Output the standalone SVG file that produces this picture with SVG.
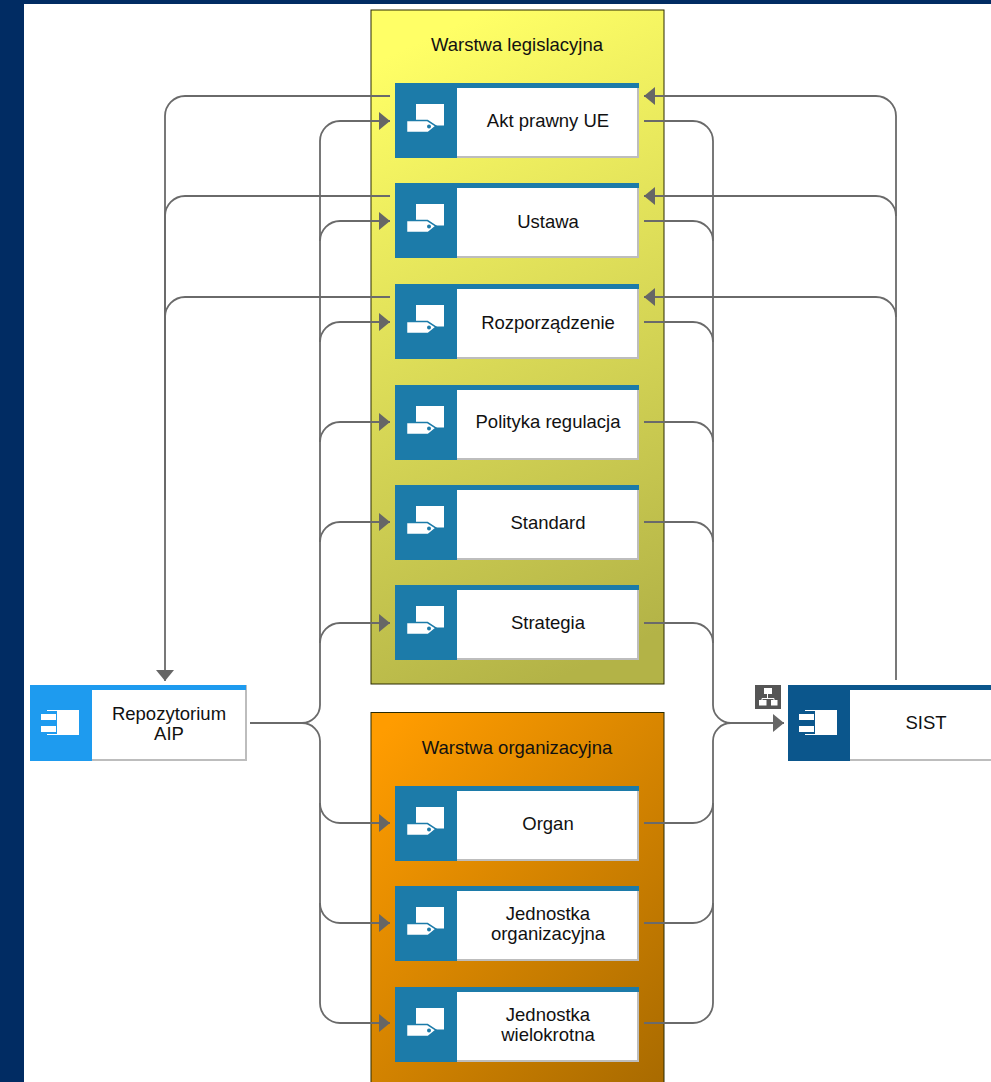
<svg xmlns="http://www.w3.org/2000/svg" width="991" height="1082" viewBox="0 0 991 1082">
<style>
text{font-family:"Liberation Sans",Arial,sans-serif;font-size:18.5px;fill:#111;text-anchor:middle}
.c{fill:none;stroke:#6a6a6a;stroke-width:1.8}
.b{fill:#fff;stroke:#bdbdbd;stroke-width:2}
.o{fill:#1c7ba9}
.layer{stroke:#2a2a00;stroke-width:1}
</style>
<defs>
<linearGradient id="g1" x1="0.4" y1="0" x2="0.6" y2="1"><stop offset="0" stop-color="#ffff66"/><stop offset="1" stop-color="#b3b347"/></linearGradient>
<linearGradient id="g2" x1="0.1" y1="0" x2="0.9" y2="1"><stop offset="0" stop-color="#ff9c00"/><stop offset="1" stop-color="#a96b00"/></linearGradient>
<marker id="a" markerUnits="userSpaceOnUse" markerWidth="12" markerHeight="19" refX="11" refY="9.500" orient="auto"><path d="M0 .5L11 9.500L0 18.500Z" fill="#666"/></marker>
<g id="tag">
<rect x="21" y="21" width="28" height="21.500" fill="#fff"/>
<path d="M11.500 37.500H32.500L41 43L33 49.500H11.500Z" fill="#fff" stroke="#1c7ba9" stroke-width="1.500"/>
<circle cx="34" cy="43.500" r="2" fill="#1c7ba9"/>
</g>
<g id="tagnode">
<rect class="b" x="1" y="1" width="242" height="73"/>
<rect class="o" width="244" height="5"/>
<rect class="o" width="62" height="75"/>
<use href="#tag"/>
</g>
<g id="comp">
<rect x="27" y="25" width="22" height="25" fill="#fff"/>
<path d="M17 25.500H27M17 49.500H27" stroke="#fff" stroke-width="1" fill="none"/>
<rect x="11" y="29" width="15" height="6" fill="#fff"/>
<rect x="11" y="41" width="15" height="6" fill="#fff"/>
</g>
</defs>
<rect width="991" height="1082" fill="#fff"/>
<path d="M0 0H991V4H24V1082H0Z" fill="#012c63"/>
<g id="layer-legislative">
<rect class="layer" x="371" y="10" width="293" height="674" fill="url(#g1)"/>
<text x="517" y="51">Warstwa legislacyjna</text>
</g>
<g id="layer-organizational">
<rect class="layer" x="371" y="712.500" width="293" height="400" fill="url(#g2)"/>
<text x="517" y="754">Warstwa organizacyjna</text>
</g>
<g id="connectors">
<path class="c" d="M390 96H185A20 20 0 0 0 165 116V681" marker-end="url(#a)"/>
<path class="c" d="M390 196H185A20 20 0 0 0 165 216V500"/>
<path class="c" d="M390 297H185A20 20 0 0 0 165 317V500"/>
<path class="c" d="M250 723H302A18 18 0 0 0 320 705V141A20 20 0 0 1 340 121H390" marker-end="url(#a)"/>
<path class="c" d="M320 241A20 20 0 0 1 340 221H390" marker-end="url(#a)"/>
<path class="c" d="M320 342A20 20 0 0 1 340 322H390" marker-end="url(#a)"/>
<path class="c" d="M320 442A20 20 0 0 1 340 422H390" marker-end="url(#a)"/>
<path class="c" d="M320 542A20 20 0 0 1 340 522H390" marker-end="url(#a)"/>
<path class="c" d="M320 643A20 20 0 0 1 340 623H390" marker-end="url(#a)"/>
<path class="c" d="M302 723A18 18 0 0 1 320 741V1003A20 20 0 0 0 340 1023H390" marker-end="url(#a)"/>
<path class="c" d="M320 803A20 20 0 0 0 340 823H390" marker-end="url(#a)"/>
<path class="c" d="M320 903A20 20 0 0 0 340 923H390" marker-end="url(#a)"/>
<path class="c" d="M644 121H693A20 20 0 0 1 713 141V705A18 18 0 0 0 731 723H784" marker-end="url(#a)"/>
<path class="c" d="M644 221H693A20 20 0 0 1 713 241"/>
<path class="c" d="M644 322H693A20 20 0 0 1 713 342"/>
<path class="c" d="M644 422H693A20 20 0 0 1 713 442"/>
<path class="c" d="M644 522H693A20 20 0 0 1 713 542"/>
<path class="c" d="M644 623H693A20 20 0 0 1 713 643"/>
<path class="c" d="M731 723A18 18 0 0 0 713 741V1003A20 20 0 0 1 693 1023H644"/>
<path class="c" d="M644 823H693A20 20 0 0 0 713 803"/>
<path class="c" d="M644 923H693A20 20 0 0 0 713 903"/>
<path class="c" d="M896 680V116A20 20 0 0 0 876 96H644" marker-end="url(#a)"/>
<path class="c" d="M896 216A20 20 0 0 0 876 196H644" marker-end="url(#a)"/>
<path class="c" d="M896 317A20 20 0 0 0 876 297H644" marker-end="url(#a)"/>
</g>
<g id="n1" transform="translate(395 83)"><use href="#tagnode"/><text x="153" y="44">Akt prawny UE</text></g>
<g id="n2" transform="translate(395 183)"><use href="#tagnode"/><text x="153" y="45">Ustawa</text></g>
<g id="n3" transform="translate(395 284)"><use href="#tagnode"/><text x="153" y="45">Rozporządzenie</text></g>
<g id="n4" transform="translate(395 385)"><use href="#tagnode"/><text x="153" y="43">Polityka regulacja</text></g>
<g id="n5" transform="translate(395 485)"><use href="#tagnode"/><text x="153" y="44">Standard</text></g>
<g id="n6" transform="translate(395 585)"><use href="#tagnode"/><text x="153" y="44">Strategia</text></g>
<g id="n7" transform="translate(395 786)"><use href="#tagnode"/><text x="153" y="44">Organ</text></g>
<g id="n8" transform="translate(395 886)"><use href="#tagnode"/><text x="153" y="34">Jednostka</text><text x="153" y="54">organizacyjna</text></g>
<g id="n9" transform="translate(395 987)"><use href="#tagnode"/><text x="153" y="34">Jednostka</text><text x="153" y="54">wielokrotna</text></g>
<g id="repo" transform="translate(30 685)">
<rect class="b" x="1" y="1" width="215" height="74"/>
<rect width="216" height="5" fill="#1e9bef"/>
<rect width="62" height="76" fill="#1e9bef"/>
<use href="#comp"/>
<text x="139" y="35">Repozytorium</text><text x="139" y="55">AIP</text>
</g>
<g id="sist" transform="translate(788 685)">
<rect class="b" x="1" y="1" width="215" height="74"/>
<rect width="216" height="5" fill="#0b568c"/>
<rect width="62" height="76" fill="#0b568c"/>
<use href="#comp"/>
<text x="138" y="44">SIST</text>
</g>
<g id="hierarchy-icon">
<rect x="755" y="685" width="26" height="24" fill="#555"/>
<rect x="764" y="688" width="8" height="6" fill="#fff"/>
<path d="M767.500 694V698M762 701V698.500H774V701" stroke="#fff" fill="none"/>
<rect x="759" y="700" width="7.500" height="5.500" fill="#fff"/>
<rect x="771" y="700" width="6.500" height="5.500" fill="#fff"/>
</g>
</svg>
